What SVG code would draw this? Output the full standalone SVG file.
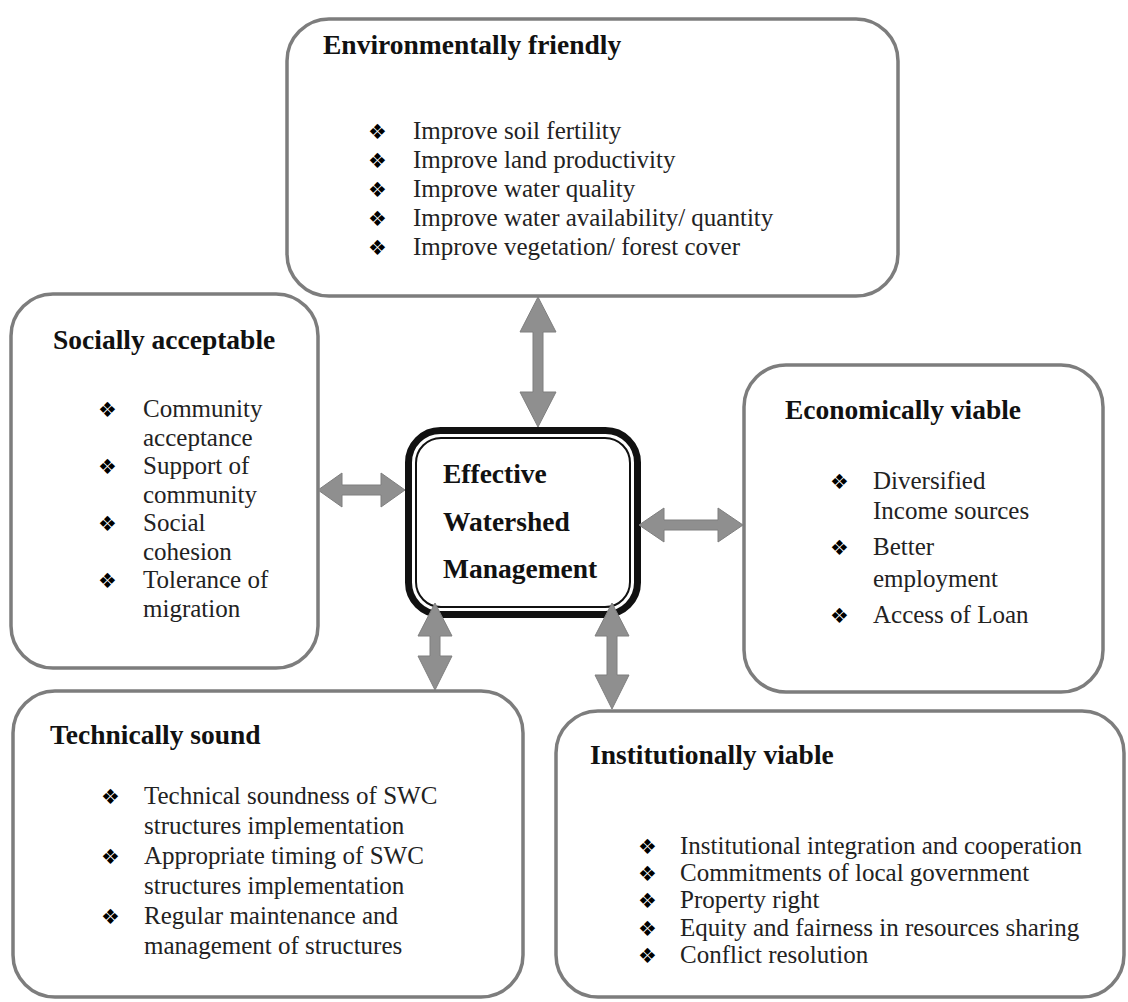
<svg xmlns="http://www.w3.org/2000/svg" width="1128" height="1002" viewBox="0 0 1128 1002">
<style>
.box{fill:#fff;stroke:#7d7d7d;stroke-width:3.5}
.t{font-family:"Liberation Serif",serif;font-weight:bold;font-size:27.5px;fill:#111}
.b{font-family:"Liberation Serif",serif;font-size:25px;fill:#222}
.d{font-family:"DejaVu Sans",sans-serif;font-size:21px;fill:#000}
.ar{fill:#8f8f8f;stroke:#7f7f7f;stroke-width:1}
</style>
<rect width="1128" height="1002" fill="#fff"/>
<g id="env">
<rect class="box" x="287" y="19" width="611" height="277" rx="42"/>
<text class="t" x="323" y="54">Environmentally friendly</text>
<text class="d" x="368" y="139">❖︎</text><text class="b" x="413" y="139">Improve soil fertility</text>
<text class="d" x="368" y="168">❖︎</text><text class="b" x="413" y="168">Improve land productivity</text>
<text class="d" x="368" y="197">❖︎</text><text class="b" x="413" y="197">Improve water quality</text>
<text class="d" x="368" y="226">❖︎</text><text class="b" x="413" y="226">Improve water availability/ quantity</text>
<text class="d" x="368" y="255">❖︎</text><text class="b" x="413" y="255">Improve vegetation/ forest cover</text>
</g>
<g id="social">
<rect class="box" x="11" y="294" width="307" height="374" rx="42"/>
<text class="t" x="53" y="349">Socially acceptable</text>
<text class="d" x="98" y="417">❖︎</text><text class="b" x="143" y="417">Community</text>
<text class="b" x="143" y="446">acceptance</text>
<text class="d" x="98" y="474">❖︎</text><text class="b" x="143" y="474">Support of</text>
<text class="b" x="143" y="503">community</text>
<text class="d" x="98" y="531">❖︎</text><text class="b" x="143" y="531">Social</text>
<text class="b" x="143" y="560">cohesion</text>
<text class="d" x="98" y="588">❖︎</text><text class="b" x="143" y="588">Tolerance of</text>
<text class="b" x="143" y="617">migration</text>
</g>
<g id="center">
<rect x="408.5" y="430.5" width="229" height="184" rx="32" fill="#fff" stroke="#111" stroke-width="7"/>
<rect x="416" y="438" width="214" height="169" rx="25" fill="none" stroke="#111" stroke-width="2"/>
<text class="t" x="443" y="483">Effective</text>
<text class="t" x="443" y="531">Watershed</text>
<text class="t" x="443" y="578">Management</text>
</g>
<g id="econ">
<rect class="box" x="744" y="365" width="359" height="327" rx="42"/>
<text class="t" x="785" y="419">Economically viable</text>
<text class="d" x="830" y="489">❖︎</text><text class="b" x="873" y="489">Diversified</text>
<text class="b" x="873" y="519">Income sources</text>
<text class="d" x="830" y="555">❖︎</text><text class="b" x="873" y="555">Better</text>
<text class="b" x="873" y="587">employment</text>
<text class="d" x="830" y="623">❖︎</text><text class="b" x="873" y="623">Access of Loan</text>
</g>
<g id="tech">
<rect class="box" x="13" y="691" width="510" height="306" rx="42"/>
<text class="t" x="50" y="744">Technically sound</text>
<text class="d" x="101" y="804">❖︎</text><text class="b" x="144" y="804">Technical soundness of SWC</text>
<text class="b" x="144" y="834">structures implementation</text>
<text class="d" x="101" y="864">❖︎</text><text class="b" x="144" y="864">Appropriate timing of SWC</text>
<text class="b" x="144" y="894">structures implementation</text>
<text class="d" x="101" y="924">❖︎</text><text class="b" x="144" y="924">Regular maintenance and</text>
<text class="b" x="144" y="954">management of  structures</text>
</g>
<g id="inst">
<rect class="box" x="556" y="711" width="568" height="286" rx="42"/>
<text class="t" x="590" y="764">Institutionally viable</text>
<text class="d" x="638" y="854">❖︎</text><text class="b" x="680" y="854">Institutional integration and cooperation</text>
<text class="d" x="638" y="881">❖︎</text><text class="b" x="680" y="881">Commitments of local government</text>
<text class="d" x="638" y="908">❖︎</text><text class="b" x="680" y="908">Property right</text>
<text class="d" x="638" y="936">❖︎</text><text class="b" x="680" y="936">Equity and fairness in resources sharing</text>
<text class="d" x="638" y="963">❖︎</text><text class="b" x="680" y="963">Conflict resolution</text>
</g>
<g id="connectors">
<polygon class="ar" points="538,297 556,332 543,332 543,392 556,392 538,427 520,392 533,392 533,332 520,332"/>
<polygon class="ar" points="318,490 342,473 342,485 381,485 381,473 405,490 381,507 381,495 342,495 342,507"/>
<polygon class="ar" points="639,525 664,508 664,520 718,520 718,508 743,525 718,542 718,530 664,530 664,542"/>
<polygon class="ar" points="435,603 452,636 440,636 440,656 452,656 435,690 418,656 430,656 430,636 418,636"/>
<polygon class="ar" points="612,603 629,636 617,636 617,675 629,675 612,709 595,675 607,675 607,636 595,636"/>
</g>
</svg>
